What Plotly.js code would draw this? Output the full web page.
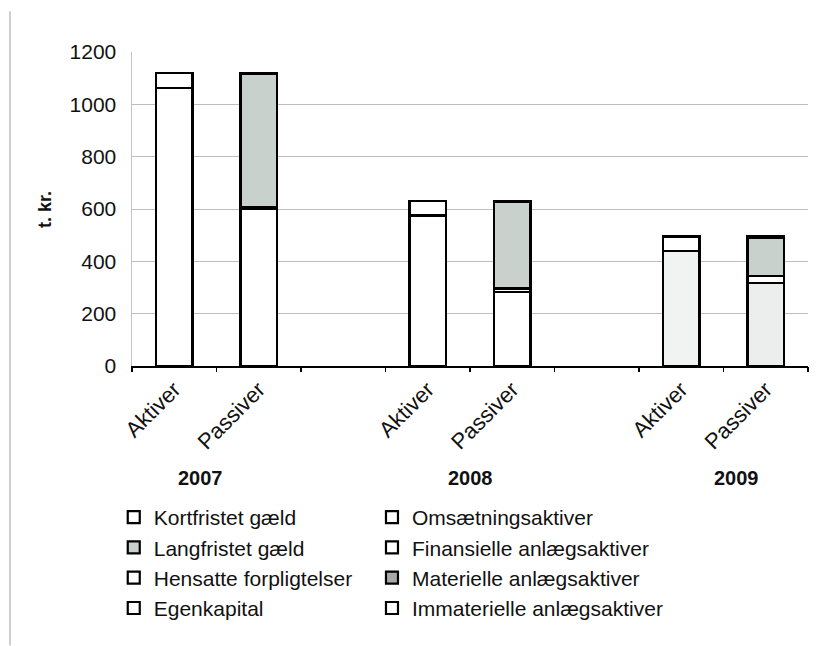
<!DOCTYPE html>
<html><head><meta charset="utf-8">
<script src="https://cdn.plot.ly/plotly-3.0.1.min.js"></script>
<style>html,body{margin:0;padding:0;background:#fff}#chart{width:826px;height:646px}</style>
</head><body><div id="chart"></div>
<script>
const years = ['2007', '2008', '2009'];
const sides = ['Aktiver', 'Passiver'];
// Aktiver
const omsaetningsaktiver = [1062, 575, 440];
const finansielleAnlaeg = [58, 55, 55];
const materielleAnlaeg = [0, 0, 0];
const immaterielleAnlaeg = [0, 0, 0];
// Passiver
const egenkapital = [600, 284, 317];
const hensatte = [8, 12, 27];
const langfristet = [510, 332, 146];
const kortfristet = [2, 2, 5];

const FONT = 'Liberation Sans, Arial, sans-serif';
const posOf = (yi, si) => yi * 3 + si;
const xA = years.map((y, i) => posOf(i, 0));
const xP = years.map((y, i) => posOf(i, 1));
const W = 0.43;
const line = {color: '#000', width: 2.2};

function bar(name, x, y, color, rank, leg) {
  return {type: 'bar', name: name, x: x, y: y, width: W, legendrank: rank, legend: leg,
    marker: {color: color, line: line}, hoverinfo: 'y+name'};
}
const traces = [
  bar('Omsætningsaktiver', xA, omsaetningsaktiver, ['#ffffff', '#ffffff', '#f0f3f1'], 1, 'legend2'),
  bar('Finansielle anlægsaktiver', xA, finansielleAnlaeg, '#ffffff', 2, 'legend2'),
  bar('Materielle anlægsaktiver', xA, materielleAnlaeg, '#a8aaa9', 3, 'legend2'),
  bar('Immaterielle anlægsaktiver', xA, immaterielleAnlaeg, '#ffffff', 4, 'legend2'),
  bar('Egenkapital', xP, egenkapital, ['#ffffff', '#ffffff', '#ebeeec'], 4, 'legend'),
  bar('Hensatte forpligtelser', xP, hensatte, '#ffffff', 3, 'legend'),
  bar('Langfristet gæld', xP, langfristet, '#c9d1cd', 2, 'legend'),
  bar('Kortfristet gæld', xP, kortfristet, '#ffffff', 1, 'legend'),
  {type: 'scatter', x: [], y: [], xaxis: 'x2', showlegend: false, hoverinfo: 'skip'}
];

const tickVals = [], tickText = [];
years.forEach((y, i) => sides.forEach((s, j) => { tickVals.push(posOf(i, j)); tickText.push(s); }));
const nCat = years.length * 3 - 1;
const bounds = [];
for (let b = -0.5; b <= nCat - 0.5 + 1e-9; b += 1) bounds.push(b);

const legFont = {family: FONT, size: 21, color: '#111'};
const layout = {
  width: 826, height: 646,
  margin: {l: 132, r: 18, t: 52, b: 280},
  paper_bgcolor: '#ffffff', plot_bgcolor: '#ffffff',
  font: {family: FONT, color: '#111', size: 21},
  barmode: 'stack',
  showlegend: true,
  xaxis: {
    range: [-0.5, nCat - 0.5], tickmode: 'array', tickvals: tickVals, ticktext: tickText,
    tickangle: -45, ticks: '', showgrid: false, zeroline: false,
    showline: true, linecolor: '#000', linewidth: 2,
    tickfont: {family: FONT, size: 22, color: '#111'}
  },
  xaxis2: {
    overlaying: 'x', side: 'bottom', range: [-0.5, nCat - 0.5],
    tickmode: 'array', tickvals: bounds, ticks: 'outside', ticklen: 5, tickwidth: 1.5,
    tickcolor: '#000', showticklabels: false, showgrid: false, zeroline: false, showline: false
  },
  yaxis: {
    range: [0, 1200], dtick: 200, tick0: 0, ticks: '',
    showgrid: true, gridcolor: '#bdbdbd', gridwidth: 1,
    zeroline: false, showline: true, linecolor: '#c4c4c4', linewidth: 1.5,
    ticklabelstandoff: 10,
    tickfont: {family: FONT, size: 21, color: '#111'}
  },
  legend: {
    orientation: 'v', x: -0.027, xanchor: 'left', y: -0.417, yanchor: 'top',
    itemwidth: 30, traceorder: 'normal', font: legFont,
    bgcolor: 'rgba(0,0,0,0)', itemclick: false
  },
  legend2: {
    orientation: 'v', x: 0.355, xanchor: 'left', y: -0.417, yanchor: 'top',
    itemwidth: 30, traceorder: 'normal', font: legFont,
    bgcolor: 'rgba(0,0,0,0)', itemclick: false
  },
  annotations: [
    {text: '<b>t. kr.</b>', xref: 'paper', yref: 'paper', x: -0.1287, y: 0.5, textangle: -90,
     xanchor: 'center', yanchor: 'middle',
     showarrow: false, font: {family: FONT, size: 18, color: '#111'}},
  ].concat(years.map((y, i) => ({
    text: '<b>' + y + '</b>', xref: 'paper', yref: 'paper', x: [0.1006, 0.5, 0.8935][i], y: -0.357,
    xanchor: 'center', yanchor: 'middle',
    showarrow: false, font: {family: FONT, size: 20, color: '#111'}
  }))),
  shapes: [
    {type: 'line', xref: 'paper', yref: 'paper', x0: -0.1805, x1: -0.1805, y0: -0.89, y1: 1.13,
     line: {color: '#cfcfcf', width: 2}}
  ]
};
Plotly.newPlot('chart', traces, layout, {displayModeBar: false, staticPlot: true});
</script></body></html>
